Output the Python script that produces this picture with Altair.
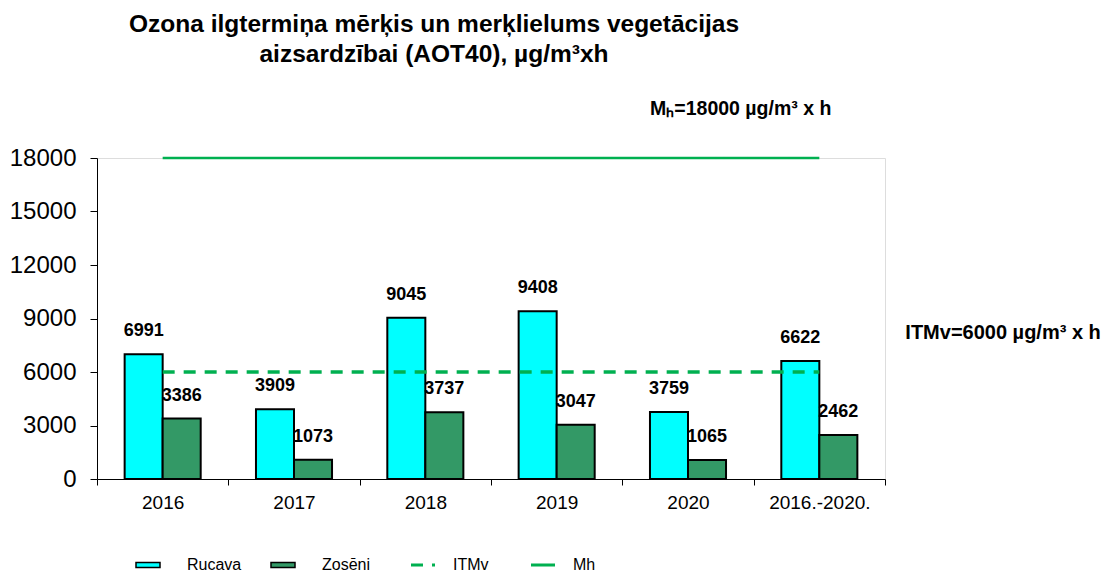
import altair as alt
import pandas as pd

categories = ["2016", "2017", "2018", "2019", "2020", "2016.-2020."]
stations = ["Rucava", "Zosēni"]
rucava = [6991, 3909, 9045, 9408, 3759, 6622]
zoseni = [3386, 1073, 3737, 3047, 1065, 2462]
itmv = [6000, 6000, 6000, 6000, 6000, 6000]
mh = [18000, 18000, 18000, 18000, 18000, 18000]
y_ticks = [0, 3000, 6000, 9000, 12000, 15000, 18000]

title_lines = ["Ozona ilgtermiņa mērķis un merķlielums vegetācijas",
               "aizsardzībai (AOT40),  µg/m³xh"]
mh_note = "Mₕ=18000 µg/m³ x h"
itmv_note = "ITMv=6000 µg/m³ x h"

FONT = "Liberation Sans"
GREEN = "#00B050"

bars = pd.DataFrame(
    [{"year": c, "station": "Rucava", "value": v} for c, v in zip(categories, rucava)]
    + [{"year": c, "station": "Zosēni", "value": v} for c, v in zip(categories, zoseni)]
)
lines = pd.DataFrame(
    [{"year": c, "series": "ITMv", "value": v} for c, v in zip(categories, itmv)]
    + [{"year": c, "series": "Mh", "value": v} for c, v in zip(categories, mh)]
)
notes_mh = pd.DataFrame([{"year": categories[-1], "value": mh[-1], "label": mh_note}])
notes_itmv = pd.DataFrame([{"year": categories[-1], "value": itmv[-1], "label": itmv_note}])

x_enc = alt.X(
    "year:N", sort=categories,
    scale=alt.Scale(domain=categories, paddingInner=0, paddingOuter=0),
    axis=alt.Axis(title=None, labelAngle=0, labelFontSize=19, labelFont=FONT,
                  labelColor="black", tickBand="extent", tickSize=6, tickColor="black",
                  domainColor="black", labelPadding=8, grid=False),
)
y_enc = alt.Y(
    "value:Q",
    scale=alt.Scale(domain=[0, 18000], nice=False),
    axis=alt.Axis(title=None, values=y_ticks, format="d", labelFontSize=24, labelFont=FONT,
                  labelColor="black", tickSize=7, tickColor="black", domainColor="black",
                  labelPadding=14, grid=False),
)
xoff = alt.XOffset(
    "station:N", sort=stations,
    scale=alt.Scale(domain=stations, paddingInner=0, paddingOuter=0.727),
)

bar_layer = alt.Chart(bars).mark_bar(stroke="black", strokeWidth=2).encode(
    x=x_enc, y=y_enc, xOffset=xoff,
    fill=alt.Fill("station:N", sort=stations,
                  scale=alt.Scale(domain=stations, range=["#00FFFF", "#339966"]),
                  legend=alt.Legend(
                      title=None, orient="none", legendX=43, legendY=399,
                      direction="horizontal",
                      symbolType="M-2.4,-0.5H2.4V0.5H-2.4Z", symbolSize=100,
                      symbolStrokeColor="black", symbolStrokeWidth=1.5,
                      symbolOpacity=1,
                      labelFont=FONT, labelFontSize=16, labelColor="black",
                      labelOffset=31, columnPadding=26)),
)

label_layer = alt.Chart(bars).mark_text(
    baseline="bottom", dy=-14, fontSize=18, fontWeight="bold", font=FONT, color="black"
).encode(x=x_enc, y=y_enc, xOffset=xoff, text=alt.Text("value:Q", format="d"))

line_layer = alt.Chart(lines).mark_line(color=GREEN).encode(
    x=x_enc, y=y_enc,
    strokeDash=alt.StrokeDash(
        "series:N", sort=["ITMv", "Mh"],
        scale=alt.Scale(domain=["ITMv", "Mh"], range=[[12, 9], [1, 0]]),
        legend=alt.Legend(
            title=None, orient="none", legendX=318, legendY=399, direction="horizontal",
            symbolType="M-2.4,0H2.4", symbolSize=100, symbolStrokeColor=GREEN,
            symbolStrokeWidth=3, labelFont=FONT, labelFontSize=16, labelColor="black",
            labelOffset=22, columnPadding=36)),
    strokeWidth=alt.StrokeWidth("series:N",
                                scale=alt.Scale(domain=["ITMv", "Mh"], range=[3.5, 2.5]),
                                legend=None),
)

mh_text = alt.Chart(notes_mh).mark_text(
    align="right", baseline="alphabetic", dx=12, dy=-43, fontSize=19.5,
    fontWeight="bold", font=FONT, color="black"
).encode(x=alt.X("year:N", sort=categories), y="value:Q", text="label:N")

itmv_text = alt.Chart(notes_itmv).mark_text(
    align="left", baseline="alphabetic", dx=86, dy=-33, fontSize=20,
    fontWeight="bold", font=FONT, color="black"
).encode(x=alt.X("year:N", sort=categories), y="value:Q", text="label:N")

chart = alt.layer(bar_layer, label_layer, line_layer, mh_text, itmv_text).resolve_legend(
    strokeDash="independent", fill="independent"
).properties(
    width=788, height=321,
    autosize=alt.AutoSizeParams(type="none"),
    padding={"left": 89, "top": 150, "right": 224, "bottom": 96},
    title=alt.Title(title_lines, anchor="middle", dx=-57, offset=32, fontSize=24.5,
                    fontWeight="bold", font=FONT, color="black", lineHeight=30),
).configure_view(stroke=None).configure(background="white")

chart.save("out.html", embed_options={"renderer": "svg", "actions": False})
